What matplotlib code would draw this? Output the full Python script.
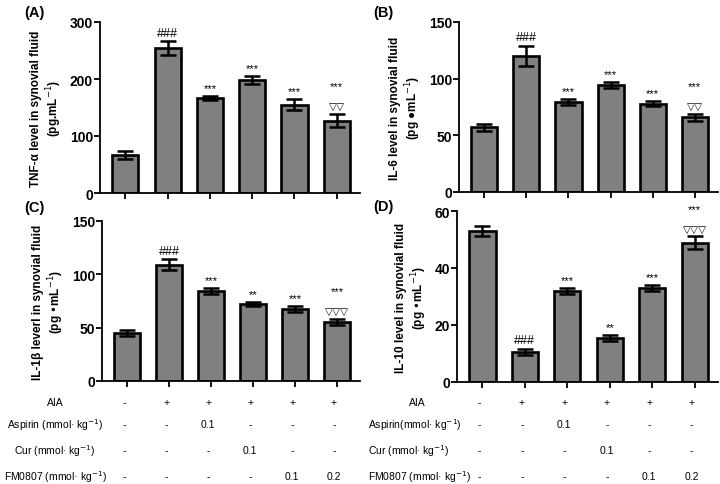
import numpy as np
import matplotlib.pyplot as plt
from matplotlib.transforms import blended_transform_factory

plt.rcParams['font.family'] = ['Liberation Sans', 'DejaVu Sans']

groups = np.arange(6)

# means and SEM
tnf_mean = [67, 254, 167, 198, 155, 127]
tnf_err = [7, 12, 3.5, 7, 10, 12]
il6_mean = [57, 120, 79.5, 94.5, 78, 66]
il6_err = [3, 9, 2.5, 3, 2.5, 3]
il1b_mean = [45, 109, 84.5, 72, 67.5, 55.5]
il1b_err = [3, 5, 3, 2, 2.5, 3]
il10_mean = [53, 10.5, 32, 15.4, 33.1, 48.8]
il10_err = [1.8, 1.1, 1, 1.1, 1, 2.3]

tnf_sig = [[], ['###'], ['***'], ['***'], ['***'], ['▽▽', '***']]
il6_sig = [[], ['###'], ['***'], ['***'], ['***'], ['▽▽', '***']]
il1b_sig = [[], ['###'], ['***'], ['**'], ['***'], ['▽▽▽', '***']]
il10_sig = [[], ['###'], ['***'], ['**'], ['***'], ['▽▽▽', '***']]

tnf_ticks = [0, 100, 200, 300]
il6_ticks = [0, 50, 100, 150]
il1b_ticks = [0, 50, 100, 150]
il10_ticks = [0, 20, 40, 60]

row_aia = ['-', '+', '+', '+', '+', '+']
row_asp = ['-', '-', '0.1', '-', '-', '-']
row_cur = ['-', '-', '-', '0.1', '-', '-']
row_fm = ['-', '-', '-', '-', '0.1', '0.2']

W, H = 720, 485
fig = plt.figure(figsize=(7.2, 4.85), dpi=100)


def px_axes(l, r, t, b):
    return fig.add_axes([l / W, 1 - b / H, (r - l) / W, (b - t) / H])


def panel(ax, mean, err, sig, ticks, ylabel, letter):
    ax.bar(groups, mean, width=0.62, color='#808080', edgecolor='black',
           linewidth=1.9, zorder=2)
    ax.errorbar(groups, mean, yerr=err, fmt='none', ecolor='black',
                elinewidth=1.8, capsize=6, capthick=1.8, zorder=3)
    for i in groups:
        top = mean[i] + err[i]
        for k, s in enumerate(sig[i]):
            if s.startswith('#'):
                fs = 9
            elif s.startswith('*'):
                fs = 8
            else:
                fs = 7.5
            ax.annotate(s, (i, top), xytext=(0, 2 + 14 * k),
                        textcoords='offset points', ha='center', va='bottom',
                        fontsize=fs, annotation_clip=False)
    ax.set_xlim(-0.6, 5.55)
    ax.set_ylim(ticks[0], ticks[-1])
    ax.set_yticks(ticks)
    ax.set_xticks(groups)
    ax.set_xticklabels([])
    for lab in ax.get_yticklabels():
        lab.set_fontweight('bold')
        lab.set_fontsize(10)
    ax.tick_params(axis='both', width=1.3, length=4, direction='out', pad=1)
    ax.spines['top'].set_visible(False)
    ax.spines['right'].set_visible(False)
    ax.spines['left'].set_linewidth(1.3)
    ax.spines['bottom'].set_linewidth(1.3)
    ax.set_ylabel(ylabel, fontsize=8.5, fontweight='bold', labelpad=4)
    ax.text(-0.3, 1.04, letter, transform=ax.transAxes, fontsize=10.5,
            fontweight='bold', ha='left', va='center')


axA = px_axes(100, 360, 23, 194)
axB = px_axes(459, 718, 23, 193)
axC = px_axes(102, 360, 222, 382)
axD = px_axes(457, 718, 212, 383)

panel(axA, tnf_mean, tnf_err, tnf_sig, tnf_ticks,
      'TNF-α level in synovial fluid\n(pg.mL$^{-1}$)', '(A)')
panel(axB, il6_mean, il6_err, il6_sig, il6_ticks,
      'IL-6 level in synovial fluid\n(pg ●mL$^{-1}$)', '(B)')
panel(axC, il1b_mean, il1b_err, il1b_sig, il1b_ticks,
      'IL-1β leverl in synovial fluid\n(pg •mL$^{-1}$)', '(C)')
panel(axD, il10_mean, il10_err, il10_sig, il10_ticks,
      'IL-10 level in synovial fluid\n(pg •mL$^{-1}$)', '(D)')
axA.texts[-1].set_position((-0.29, 1.06))
axB.texts[-1].set_position((-0.33, 1.06))
axC.texts[-1].set_position((-0.3, 1.09))
axD.texts[-1].set_position((-0.32, 1.03))

# treatment table under the lower panels
rows = [row_aia, row_asp, row_cur, row_fm]
row_y = [403, 425, 451, 477]
left_labels = ['AIA', 'Aspirin (mmol· kg$^{-1}$)', 'Cur (mmol· kg$^{-1}$)',
               'FM0807 (mmol· kg$^{-1}$)']
right_labels = ['AIA', 'Aspirin(mmol· kg$^{-1}$)', 'Cur (mmol· kg$^{-1}$)',
                'FM0807 (mmol· kg$^{-1}$)']

for ax, labels, side in [(axC, left_labels, 'left'), (axD, right_labels, 'right')]:
    tr = blended_transform_factory(ax.transData, fig.transFigure)
    for r, vals in enumerate(rows):
        y = 1 - row_y[r] / H
        for i, v in enumerate(vals):
            ax.text(i - 0.07, y, v, transform=tr, ha='center', va='center',
                    fontsize=7.5)
        if side == 'left':
            fig.text(55 / W, y, labels[r], ha='center', va='center', fontsize=7.5)
        else:
            if r == 0:
                fig.text(417 / W, y, labels[r], ha='center', va='center', fontsize=7.5)
            else:
                fig.text(368 / W, y, labels[r], ha='left', va='center', fontsize=7.5)

fig.savefig('out.png', dpi=100)
